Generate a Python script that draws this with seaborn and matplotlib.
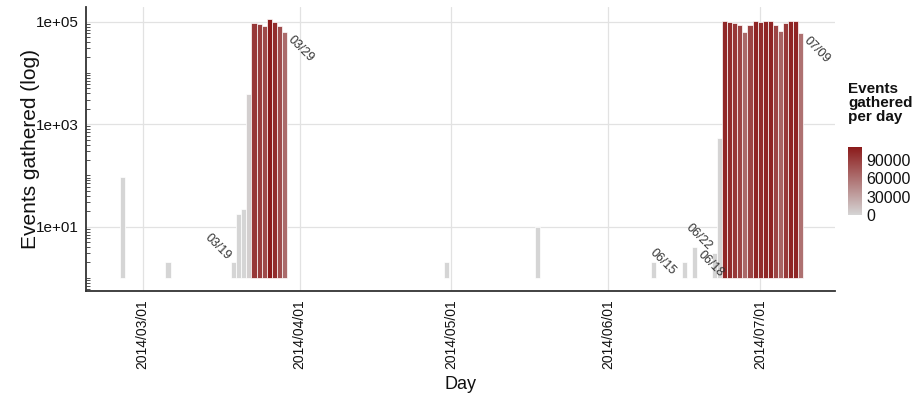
import numpy as np
import pandas as pd
import matplotlib
matplotlib.use("Agg")
import matplotlib.pyplot as plt
import matplotlib.dates as mdates
from matplotlib.colors import LinearSegmentedColormap, Normalize
from matplotlib.cm import ScalarMappable
from matplotlib.ticker import FixedLocator, LogLocator, NullFormatter, FuncFormatter
import seaborn as sns

# ---------------- data ----------------
days = ["2014-02-25", "2014-03-06",
        "2014-03-19", "2014-03-20", "2014-03-21", "2014-03-22", "2014-03-23",
        "2014-03-24", "2014-03-25", "2014-03-26", "2014-03-27", "2014-03-28",
        "2014-03-29",
        "2014-04-30", "2014-05-18",
        "2014-06-10", "2014-06-15", "2014-06-16", "2014-06-18", "2014-06-22",
        "2014-06-23", "2014-06-24", "2014-06-25", "2014-06-26", "2014-06-27",
        "2014-06-28", "2014-06-29", "2014-06-30", "2014-07-01", "2014-07-02",
        "2014-07-03", "2014-07-04", "2014-07-05", "2014-07-06", "2014-07-07",
        "2014-07-08", "2014-07-09"]
events = [92, 2,
          2, 18, 22, 3800, 93000,
          90000, 82000, 111000, 100000, 81000,
          63000,
          2, 10,
          2, 1, 2, 4, 3,
          530, 103000, 100000, 93000, 86000,
          64000, 86000, 105000, 100000, 105000,
          105000, 86000, 67000, 93000, 105000,
          105000, 59000]

label_days = ["2014-03-19", "2014-03-29", "2014-06-15", "2014-06-18", "2014-06-22", "2014-07-09"]
label_texts = ["03/19", "03/29", "06/15", "06/18", "06/22", "07/09"]
label_side = ["start", "end", "start", "end", "start", "end"]

x_breaks = ["2014-03-01", "2014-04-01", "2014-05-01", "2014-06-01", "2014-07-01"]
y_breaks = [1e1, 1e3, 1e5]
y_break_labels = ["1e+01", "1e+03", "1e+05"]
legend_breaks = [0, 30000, 60000, 90000]

# ---------------- style ----------------
sns.set_theme(style="white")
plt.rcParams["font.family"] = ["Liberation Sans", "DejaVu Sans"]

df = pd.DataFrame({"day": pd.to_datetime(days), "events": events})
df["x"] = mdates.date2num(df["day"])
df["height"] = df["events"] - 1  # bars rise from 10^0, as in a log10 scale

cmap = LinearSegmentedColormap.from_list("ev", ["#D5D5D5", "#8B1A1A"])
norm = Normalize(vmin=0, vmax=max(events))

fig = plt.figure(figsize=(9.24, 3.96), dpi=100)
ax = fig.add_axes([86 / 924, 1 - 291 / 396, (835 - 86) / 924, (291 - 7) / 396])

sns.barplot(data=df, x="x", y="height", hue="events", palette=cmap, hue_norm=norm,
            native_scale=True, dodge=False, width=1.0, saturation=1,
            errorbar=None, legend=False, bottom=1,
            edgecolor="white", linewidth=0.5, ax=ax, zorder=2)

ax.set_yscale("log")
ax.set_ylim(10 ** -0.256, 10 ** 5.286)
x0 = mdates.date2num(pd.Timestamp("2014-03-01"))
ax.set_xlim(x0 - 11.2, x0 + 136.8)

ax.xaxis.set_major_locator(FixedLocator(mdates.date2num(pd.to_datetime(x_breaks))))
ax.xaxis.set_major_formatter(mdates.DateFormatter("%Y/%m/%d"))
ax.yaxis.set_major_locator(FixedLocator(y_breaks))
ax.yaxis.set_major_formatter(FuncFormatter(lambda v, p: y_break_labels[y_breaks.index(v)] if v in y_breaks else ""))
ax.yaxis.set_minor_locator(LogLocator(base=10, subs=np.arange(1, 10), numticks=50))
ax.yaxis.set_minor_formatter(NullFormatter())

ax.grid(True, which="major", axis="both", color="#E2E2E2", linewidth=0.9)
ax.set_axisbelow(True)
for s in ["top", "right"]:
    ax.spines[s].set_visible(False)
for s in ["left", "bottom"]:
    ax.spines[s].set_color("#333333")
    ax.spines[s].set_linewidth(1.3)

ax.tick_params(axis="x", which="major", direction="out", length=3, width=1,
               color="#333333", pad=3, labelsize=10, labelrotation=90, labelcolor="#111111")
ax.tick_params(axis="y", which="major", direction="out", length=3, width=1,
               color="#333333", pad=2, labelsize=11, labelcolor="#111111")
ax.tick_params(axis="y", which="minor", direction="in", length=3, width=0.6,
               color="#333333", left=True)

ax.set_xlabel("Day", fontsize=13, labelpad=5, color="#111111")
ax.set_ylabel("Events gathered (log)", fontsize=15, labelpad=-3, color="#111111")

# period start / end labels
lookup = dict(zip(days, events))
for d, t, side in zip(label_days, label_texts, label_side):
    xv = mdates.date2num(pd.Timestamp(d))
    yv = lookup[d]
    off = (-11.5, 11.5) if side == "start" else (12, -12)
    ax.annotate(t, xy=(xv, yv), xytext=off, textcoords="offset points",
                rotation=-45, rotation_mode="anchor", ha="center", va="center",
                fontsize=9, color="#333333")

# colour legend
cax = fig.add_axes([848 / 924, 1 - 215 / 396, 14 / 924, 68 / 396])
cb = fig.colorbar(ScalarMappable(norm=norm, cmap=cmap), cax=cax, ticks=legend_breaks)
cb.outline.set_visible(False)
cax.yaxis.set_major_formatter(FuncFormatter(lambda v, p: f"{int(round(v))}"))
cax.yaxis.set_ticks_position("both")
cax.tick_params(axis="y", length=3, width=0.8, color="white", direction="in",
                labelsize=11.5, pad=3, labelleft=False, labelright=True, labelcolor="#111111")
fig.text(848 / 924, 1 - 82 / 396, "Events\ngathered\nper day", fontweight="bold",
         fontsize=11, va="top", ha="left", linespacing=1.0, color="#111111")

fig.savefig("out.png", dpi=100)
